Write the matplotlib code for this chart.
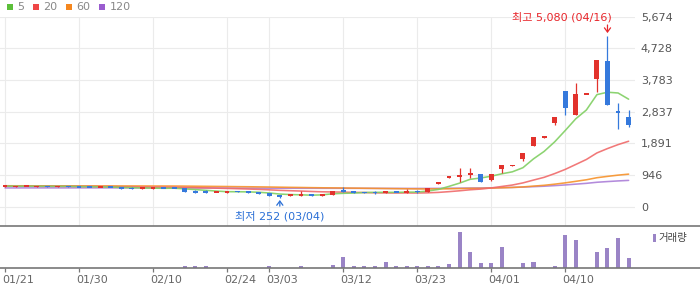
import matplotlib
matplotlib.use('Agg')
import matplotlib.pyplot as plt
import matplotlib.transforms as mtransforms
import numpy as np
import pandas as pd
from matplotlib.patches import Rectangle

plt.rcParams['font.family'] = ['DejaVu Sans', 'Noto Sans CJK KR']

# ---------------- data ----------------
opens = [598, 596, 600, 598, 602, 597, 605, 600, 590, 577,
         578, 590, 545, 540, 540, 555, 555, 545, 445, 445,
         425, 415, 455, 428, 425, 400, 350, 305, 325, 375,
         330, 345, 490, 428, 420, 440, 400, 460, 420, 470,
         445, 685, 865, 890, 940, 970, 790, 1120, 1220, 1430,
         1815, 2060, 2485, 3450, 2735, 3350, 3810, 4345, 2835, 2665]
closes = [608, 604, 606, 604, 595, 606, 598, 575, 583, 583,
          572, 535, 540, 548, 548, 548, 548, 445, 438, 440,
          435, 455, 435, 420, 385, 325, 295, 360, 380, 330,
          375, 450, 435, 420, 412, 395, 460, 425, 455, 420,
          550, 700, 880, 940, 990, 745, 970, 1240, 1235, 1605,
          2065, 2075, 2670, 2930, 3360, 3370, 4375, 3030, 2815, 2435]
highs = [615, 606, 606, 605, 606, 620, 622, 602, 610, 585,
         578, 592, 570, 560, 560, 565, 555, 548, 480, 480,
         440, 458, 458, 430, 427, 405, 352, 362, 455, 380,
         378, 455, 580, 450, 422, 455, 475, 462, 520, 480,
         555, 705, 882, 1160, 1160, 975, 975, 1245, 1238, 1610,
         2068, 2078, 2672, 3455, 3700, 3372, 4380, 5080, 3100, 2880]
lows = [595, 575, 598, 597, 580, 594, 592, 572, 572, 575,
        570, 532, 520, 530, 535, 540, 546, 440, 400, 400,
        420, 412, 432, 418, 383, 320, 252, 300, 322, 318,
        328, 330, 430, 395, 390, 385, 395, 420, 415, 415,
        440, 680, 862, 740, 845, 740, 760, 990, 1218, 1370,
        1812, 2058, 2445, 2730, 2730, 3348, 3430, 3025, 2305, 2365]
volumes = [0, 0, 0, 0, 0, 0, 0, 0, 0, 0,
           0, 0, 0, 0, 0, 0, 0, 16, 16, 16,
           0, 0, 0, 0, 0, 16, 0, 0, 16, 0,
           0, 33, 110, 23, 16, 16, 63, 16, 23, 16,
           16, 16, 37, 363, 163, 53, 53, 213, 0, 53,
           63, 0, 23, 333, 283, 0, 163, 203, 303, 103]
ma60 = [620, 619, 619, 618, 618, 617, 617, 616, 616, 615,
        615, 614, 614, 613, 612, 612, 611, 609, 606, 603,
        600, 597, 593, 590, 586, 582, 577, 572, 568, 563,
        559, 556, 553, 549, 545, 541, 537, 533, 530, 526,
        525, 526, 530, 535, 541, 543, 549, 559, 569, 585,
        609, 633, 667, 706, 752, 798, 860, 900, 937, 967]
ma120 = [555, 555, 556, 556, 556, 556, 556, 557, 557, 557,
         557, 557, 557, 557, 557, 557, 557, 556, 555, 554,
         553, 552, 551, 550, 549, 548, 547, 546, 545, 545,
         544, 544, 543, 543, 542, 542, 541, 541, 540, 540,
         540, 542, 545, 548, 552, 554, 558, 564, 570, 580,
         593, 606, 624, 644, 668, 692, 724, 745, 764, 780]

tick_idx = [0, 7, 14, 21, 25, 32, 39, 46, 53]
tick_labels = ['01/21', '01/30', '02/10', '02/24', '03/03', '03/12', '03/23', '04/01', '04/10']
ytick_labels = ['0', '946', '1,891', '2,837', '3,783', '4,728', '5,674']
legend_labels = ['5', '20', '60', '120']
high_label = '최고 5,080 (04/16)'
low_label = '최저 252 (03/04)'
high_idx, low_idx = 57, 26
vol_label = '거래량'

# ---------------- styles ----------------
RED = '#e2322c'
BLUE = '#3579dc'
MA_COLORS = ['#80cf62', '#f06a6a', '#f7922a', '#ab7fd8']
LEG_COLORS = ['#5cbf3a', '#ef4646', '#f5871f', '#9a5ccf']
VOL_COLOR = '#9a84c6'

W, H = 700, 289
fig = plt.figure(figsize=(W / 100, H / 100), dpi=100)

def fx(px):
    return px / W

def fy(py):
    return 1 - py / H

px_per_day = 10.57
x0 = -5 / px_per_day

ax = fig.add_axes([0, fy(225.5), fx(635), fy(16.5) - fy(225.5)])
axv = fig.add_axes([0, fy(268), 1, fy(225.5) - fy(268)])

n = len(closes)
idx = np.arange(n)
o = np.array(opens, float)
c = np.array(closes, float)
h = np.array(highs, float)
l = np.array(lows, float)

# moving averages
s = pd.Series(c)
ma5 = s.rolling(5, min_periods=1).mean().values
ma20 = s.rolling(20, min_periods=1).mean().values
for vals, col, z in [(ma120, MA_COLORS[3], 2), (ma60, MA_COLORS[2], 2.1),
                     (ma20, MA_COLORS[1], 2.2), (ma5, MA_COLORS[0], 2.3)]:
    ax.plot(idx, vals, color=col, lw=1.15, alpha=0.9, zorder=z, solid_capstyle='round')

# candles
min_h = 50
up = c >= o
cols = np.where(up, RED, BLUE)
ax.vlines(idx, l, h, colors=cols, lw=0.9, zorder=3)
diff = np.abs(c - o)
body_h = np.maximum(diff, min_h)
bottom = np.minimum(o, c) - (body_h - diff) / 2
ax.bar(idx, body_h, bottom=bottom, width=0.46, color=cols, zorder=4, linewidth=0)

ax.set_xlim(x0, x0 + 635 / px_per_day)
ax.set_ylim(-567, 5674)
yt = np.linspace(0, 5674, 7)
ax.yaxis.tick_right()
ax.set_yticks(yt, ytick_labels)
ax.set_xticks(tick_idx)
ax.tick_params(axis='x', length=0, labelbottom=False)
ax.tick_params(axis='y', length=0, pad=4.2, labelsize=8, labelcolor='#555555')
ax.grid(True, color='#ebebeb', lw=0.8, zorder=0)
ax.set_axisbelow(True)
for sp in ax.spines.values():
    sp.set_visible(False)

# annotations
ax.annotate(high_label, xy=(high_idx, highs[high_idx]), xytext=(3.2, 14),
            textcoords='offset points', ha='right', va='center', color='#e8262b',
            fontsize=8, zorder=6)
ax.annotate('', xy=(high_idx, highs[high_idx]), xytext=(0, 8.2), textcoords='offset points',
            arrowprops=dict(arrowstyle='->,head_length=0.3,head_width=0.22', color='#e8262b',
                            lw=0.9, shrinkA=0, shrinkB=2.4), zorder=6)
ax.annotate(low_label, xy=(low_idx, lows[low_idx]), xytext=(0, -13.4),
            textcoords='offset points', ha='center', va='center', color='#2a6fd6',
            fontsize=8, zorder=6)
ax.annotate('', xy=(low_idx, lows[low_idx]), xytext=(0, -5.8), textcoords='offset points',
            arrowprops=dict(arrowstyle='->,head_length=0.3,head_width=0.22', color='#2a6fd6',
                            lw=0.9, shrinkA=0, shrinkB=1.4), zorder=6)

# volume
axv.bar(idx, volumes, width=0.38, color=VOL_COLOR, linewidth=0)
axv.set_xlim(x0, x0 + W / px_per_day)
axv.set_ylim(0, max(volumes) * 43 / 36.3)
axv.set_yticks([])
axv.set_xticks(tick_idx, tick_labels)
axv.tick_params(axis='x', length=3, width=0.9, color='#777777', pad=2,
                labelsize=8, labelcolor='#666666')
shift = mtransforms.ScaledTranslation(-3 / 100, 0, fig.dpi_scale_trans)
for lab in axv.get_xticklabels():
    lab.set_horizontalalignment('left')
    lab.set_transform(lab.get_transform() + shift)
for side in ['left', 'right']:
    axv.spines[side].set_visible(False)
for side in ['top', 'bottom']:
    axv.spines[side].set_color('#777777')
    axv.spines[side].set_linewidth(1.2)
axv.patch.set_alpha(0)

# volume legend
fig.add_artist(Rectangle((fx(652.7), fy(242)), fx(3.3), 8 / H, transform=fig.transFigure,
                         color=VOL_COLOR, lw=0))
fig.text(fx(658), fy(238), vol_label, ha='left', va='center', fontsize=7.5, color='#444444')

# top legend
sq_x = [6.7, 32.5, 66, 99]
txt_x = [17, 43, 76, 110]
for lab, col, sx, tx in zip(legend_labels, LEG_COLORS, sq_x, txt_x):
    fig.add_artist(Rectangle((fx(sx), fy(9.5)), fx(6), 6 / H, transform=fig.transFigure,
                             color=col, lw=0))
    fig.text(fx(tx), fy(6.5), lab, ha='left', va='center', fontsize=8, color='#888888')

fig.savefig('out.png', dpi=100)
